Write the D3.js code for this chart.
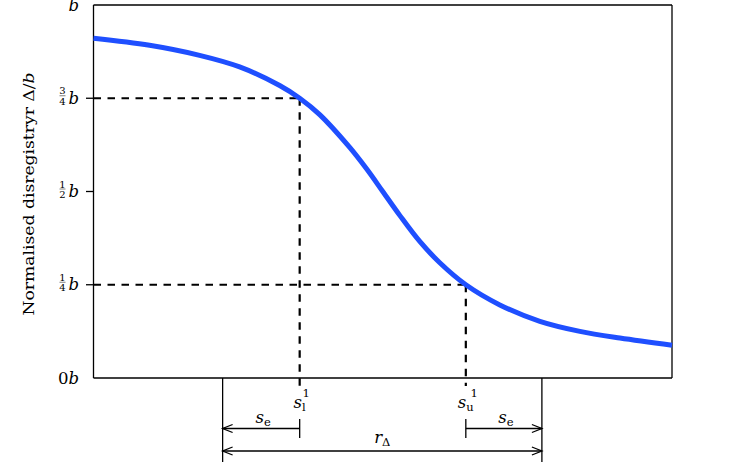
<!DOCTYPE html>
<html>
<head>
<meta charset="utf-8">
<title>Normalised disregistry</title>
<script src="https://cdn.jsdelivr.net/npm/d3@7"></script>
<style>
  body { margin: 0; background: #fff; }
  svg { display: block; font-family: "DejaVu Serif", "Liberation Serif", serif; }
  .frame line { stroke: #000; stroke-width: 1.3; }
  .guide { stroke: #000; stroke-width: 2.2; stroke-dasharray: 7.5,6.5; fill: none; }
  .dim { stroke: #000; stroke-width: 1.3; fill: none; }
</style>
</head>
<body>
<script>
// curve (x in arbitrary units 0..10, y in units of b)
var sVals = [0, 0.969, 1.834, 2.526, 3.218, 3.564, 3.910, 4.429, 4.723, 5.0, 5.294, 5.640, 5.986, 6.436, 7.024, 7.716, 8.408, 9.100, 10];
var dVals = [0.911, 0.892, 0.865, 0.834, 0.784, 0.75, 0.706, 0.618, 0.560, 0.5, 0.436, 0.366, 0.309, 0.25, 0.196, 0.152, 0.125, 0.107, 0.088];

// y ticks (fractions of b)
var tickVals = [0, 0.25, 0.5, 0.75, 1];
var tickNum  = [null, "1", "1", "3", null];
var tickDen  = [null, "4", "2", "4", null];
var tickPre  = ["0", "", "", "", ""];

// marked positions
var sLower = 3.564, sUpper = 6.436;   // s_l^1 , s_u^1
var rLeft = 2.232, rRight = 7.751;    // extent of r_Delta
var dLevels = [0.75, 0.25];

(function() {
var width = 747, height = 467;
var mLeft = 93.5, mRight = 672, mTop = 5, mBottom = 378;

var svg = d3.select("body").append("svg")
  .attr("width", width).attr("height", height);

var x = d3.scaleLinear().domain([0, 10]).range([mLeft, mRight]);
var y = d3.scaleLinear().domain([0, 1]).range([mBottom, mTop]);

// frame
var fr = svg.append("g").attr("class", "frame");
fr.append("line").attr("x1", mLeft).attr("x2", mRight).attr("y1", mTop).attr("y2", mTop);
fr.append("line").attr("x1", mLeft).attr("x2", mRight).attr("y1", mBottom).attr("y2", mBottom);
fr.append("line").attr("x1", mLeft).attr("x2", mLeft).attr("y1", mTop).attr("y2", mBottom);
fr.append("line").attr("x1", mRight).attr("x2", mRight).attr("y1", mTop).attr("y2", mBottom);

// ticks + labels
var ticks = svg.append("g");
tickVals.forEach(function(v, i) {
  var ty = y(v);
  if (v > 0 && v < 1) {
    ticks.append("line").attr("x1", mLeft - 7.5).attr("x2", mLeft)
      .attr("y1", ty).attr("y2", ty).attr("stroke", "#000").attr("stroke-width", 1.3);
  }
  var lab = ticks.append("text").attr("x", 79).attr("y", ty + 5.5)
    .attr("text-anchor", "end").attr("font-size", 16.5);
  if (tickPre[i]) lab.append("tspan").text(tickPre[i]);
  lab.append("tspan").attr("font-style", "italic").text("b");
  if (tickNum[i]) {
    ticks.append("text").attr("x", 62.5).attr("y", ty - 4).attr("text-anchor", "middle")
      .attr("font-size", 10).attr("fill", "#000").text(tickNum[i]);
    ticks.append("text").attr("x", 62.5).attr("y", ty + 6.5).attr("text-anchor", "middle")
      .attr("font-size", 10).attr("fill", "#000").text(tickDen[i]);
    ticks.append("line").attr("x1", 59.5).attr("x2", 65.5)
      .attr("y1", ty - 2.5).attr("y2", ty - 2.5).attr("stroke", "#000").attr("stroke-width", 0.5);
  }
});

// y axis label
var yl = svg.append("text")
  .attr("transform", "translate(34," + 194 + ") rotate(-90)")
  .attr("text-anchor", "middle").attr("font-size", 15.5)
  .attr("textLength", 243).attr("lengthAdjust", "spacingAndGlyphs");
yl.append("tspan").text("Normalised disregistryr \u0394/");
yl.append("tspan").attr("font-style", "italic").text("b");

// dashed guides
var gx = [sLower, sUpper];
dLevels.forEach(function(d, i) {
  svg.append("line").attr("class", "guide")
    .attr("x1", mLeft).attr("x2", x(gx[i])).attr("y1", y(d)).attr("y2", y(d));
  svg.append("line").attr("class", "guide")
    .attr("x1", x(gx[i])).attr("x2", x(gx[i])).attr("y1", y(d)).attr("y2", mBottom + 8);
});

// the curve
var line = d3.line()
  .x(function(d, i) { return x(sVals[i]); })
  .y(function(d) { return y(d); })
  .curve(d3.curveCatmullRom.alpha(0.5));
svg.append("path").datum(dVals)
  .attr("d", line)
  .attr("fill", "none")
  .attr("stroke", "#1f4fff")
  .attr("stroke-width", 5);

// dimension lines under the plot
var arrowY1 = 428.5, arrowY2 = 451;
function head(px, py, dir) {
  svg.append("path").attr("class", "dim")
    .attr("d", "M" + (px - dir * 10) + "," + (py - 4) + " L" + px + "," + py + " L" + (px - dir * 10) + "," + (py + 4));
}
[rLeft, rRight].forEach(function(v) {
  svg.append("line").attr("class", "dim")
    .attr("x1", x(v)).attr("x2", x(v)).attr("y1", mBottom).attr("y2", 462);
});
[sLower, sUpper].forEach(function(v) {
  svg.append("line").attr("class", "dim")
    .attr("x1", x(v)).attr("x2", x(v)).attr("y1", 419).attr("y2", 438);
});
svg.append("line").attr("class", "dim")
  .attr("x1", x(sLower)).attr("x2", x(rLeft)).attr("y1", arrowY1).attr("y2", arrowY1);
head(x(rLeft), arrowY1, -1);
svg.append("line").attr("class", "dim")
  .attr("x1", x(sUpper)).attr("x2", x(rRight)).attr("y1", arrowY1).attr("y2", arrowY1);
head(x(rRight), arrowY1, 1);
svg.append("line").attr("class", "dim")
  .attr("x1", x(rLeft)).attr("x2", x(rRight)).attr("y1", arrowY2).attr("y2", arrowY2);
head(x(rLeft), arrowY2, -1);
head(x(rRight), arrowY2, 1);

// labels
function mathLabel(cx, by, base, sub, sup) {
  var t = svg.append("text").attr("x", cx).attr("y", by)
    .attr("text-anchor", "middle").attr("font-size", 16.5);
  t.append("tspan").attr("font-style", "italic").text(base);
  t.append("tspan").attr("font-size", 11.5).attr("dy", 3).text(sub);
  if (sup) {
    t.append("tspan").attr("font-size", 11.5).attr("dx", -3).attr("dy", -14).text(sup);
  }
}
mathLabel(x(sLower) + 2, 408, "s", "l", "1");
mathLabel(x(sUpper) + 2, 408, "s", "u", "1");
mathLabel((x(rLeft) + x(sLower)) / 2 + 2, 423, "s", "e");
mathLabel((x(sUpper) + x(rRight)) / 2 + 2, 423, "s", "e");
mathLabel((x(rLeft) + x(rRight)) / 2, 443, "r", "\u0394");
})();
</script>
</body>
</html>
